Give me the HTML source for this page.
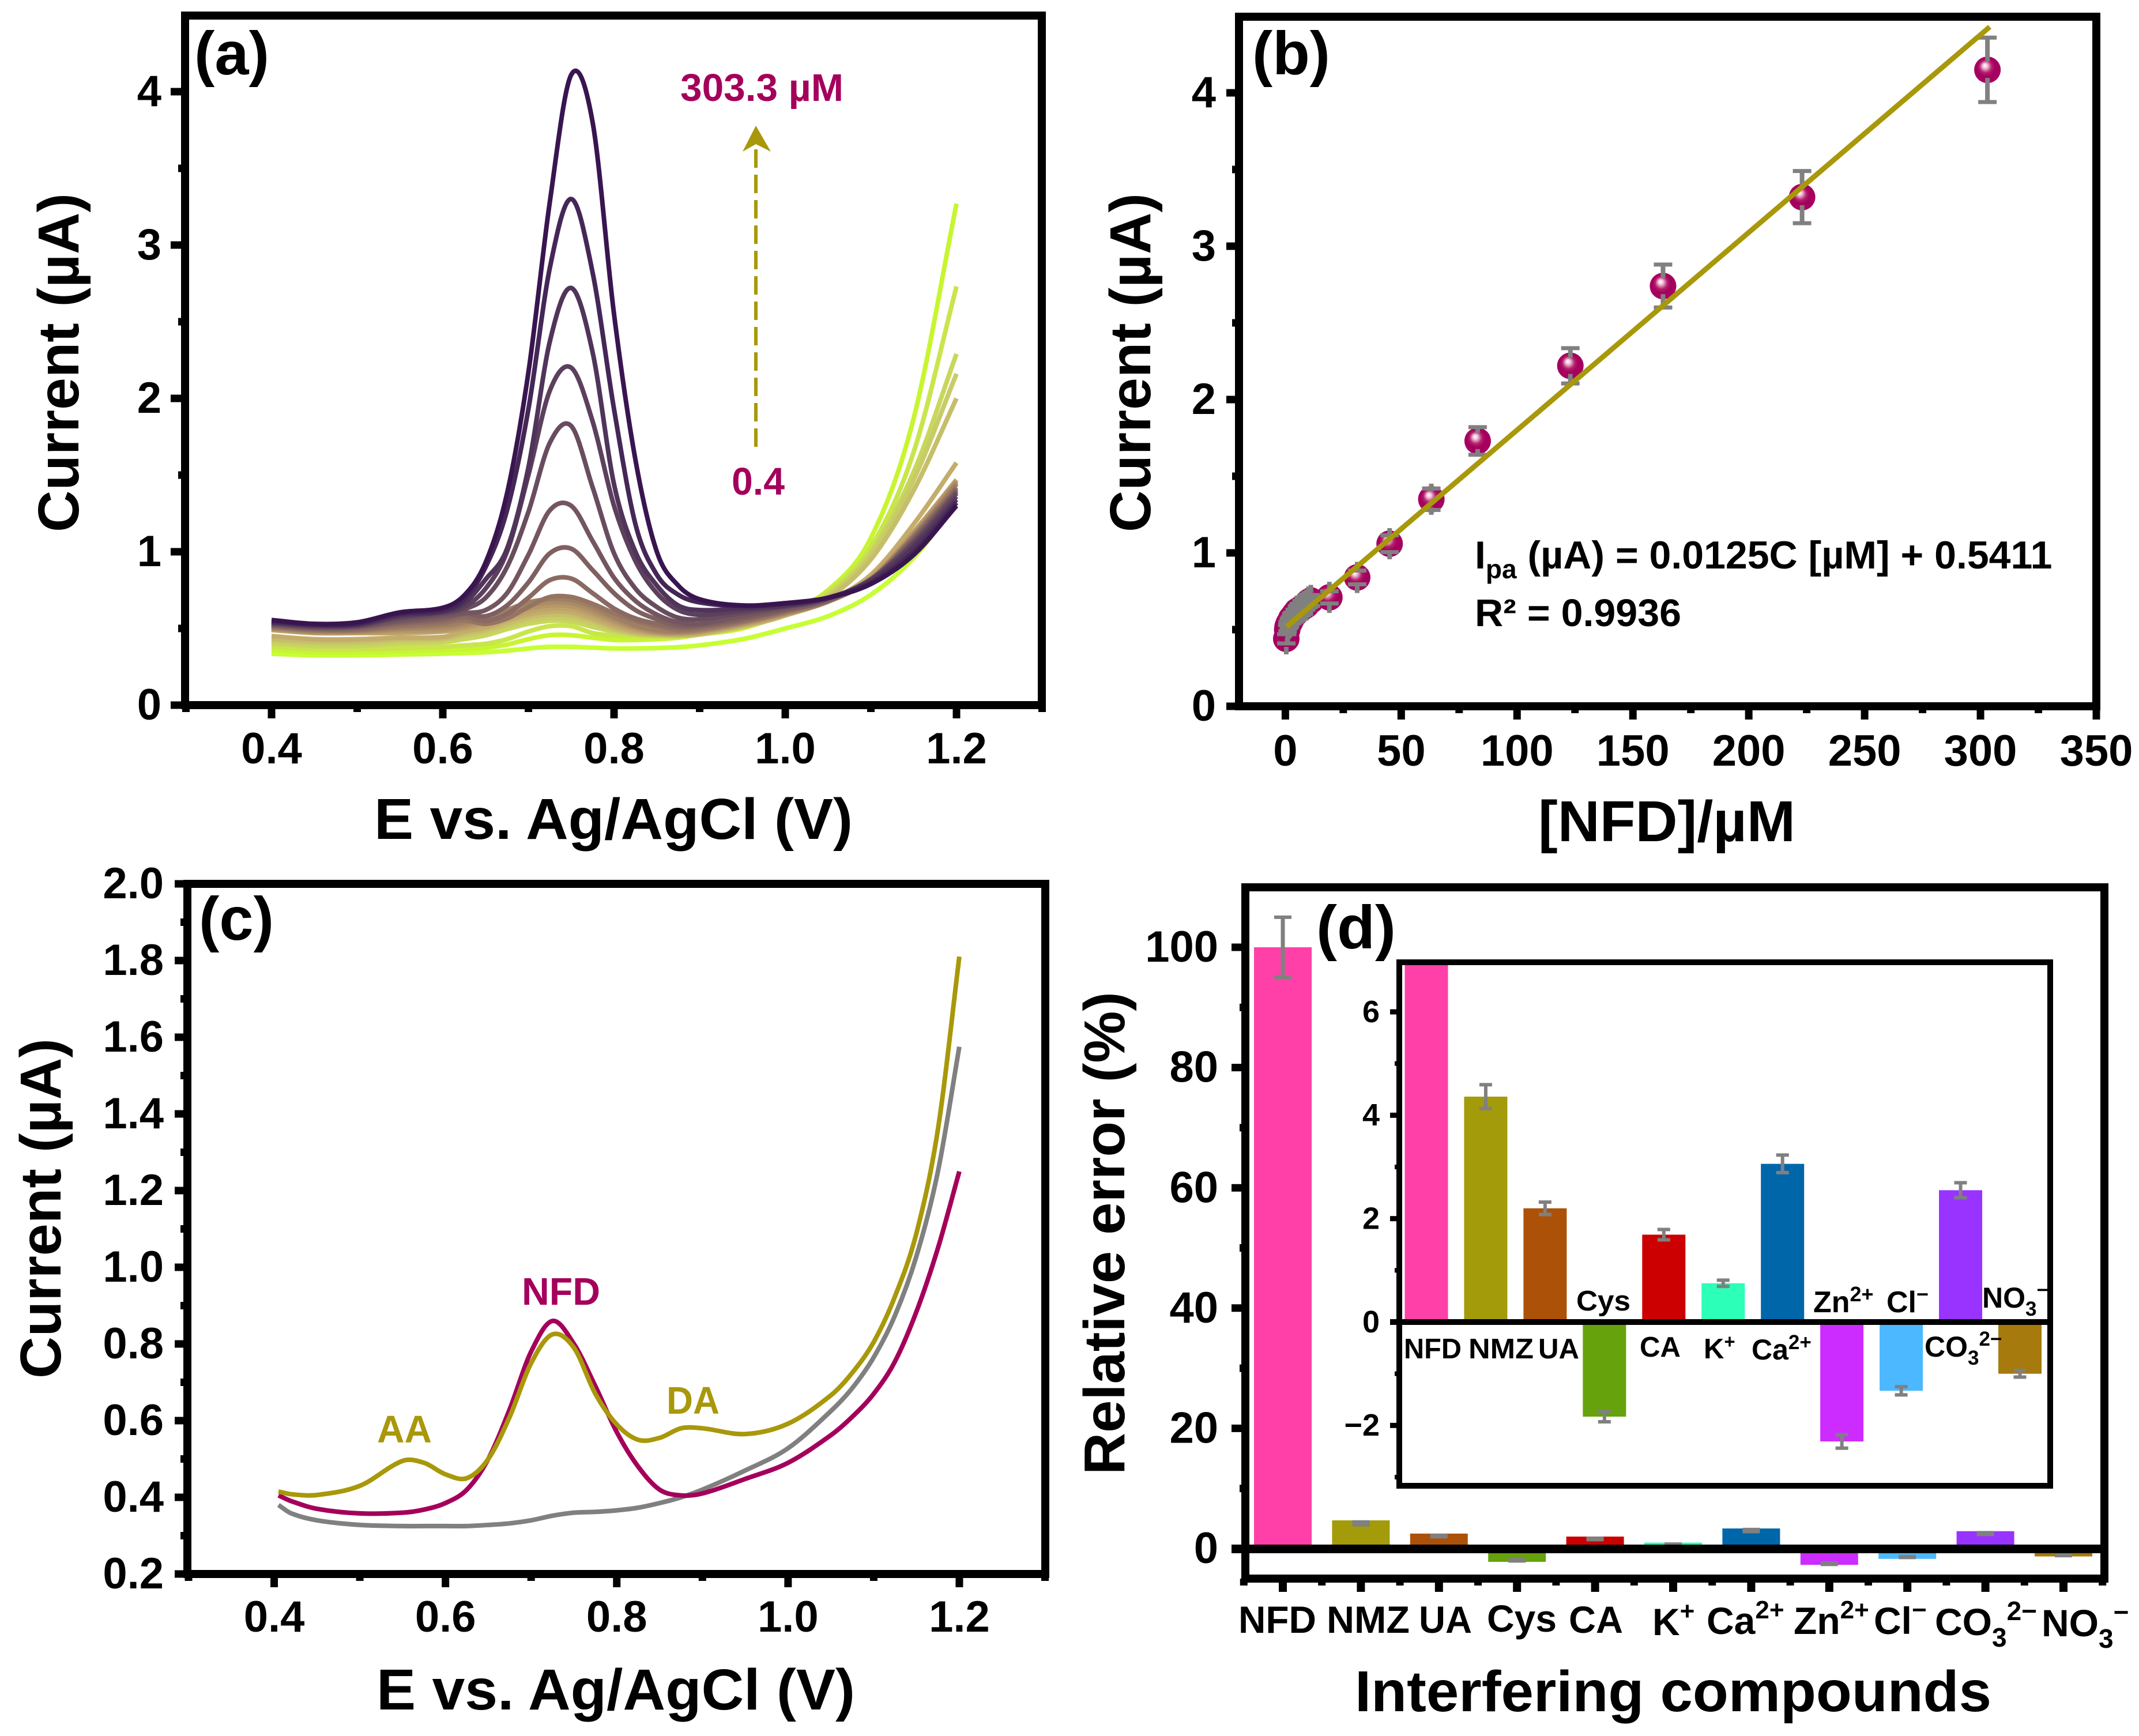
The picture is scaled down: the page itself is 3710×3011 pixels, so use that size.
<!DOCTYPE html>
<html lang="en">
<head>
<meta charset="utf-8">
<title>NFD electrochemical sensing figure</title>
<style>
html,body{margin:0;padding:0;background:#fff;}
svg{display:block;}
text{font-family:"Liberation Sans",Arial,sans-serif;font-weight:bold;fill:#000;}
.title{font-size:100px;}
.panel{font-size:106px;}
.anno{font-size:67px;}
.cat{font-size:66px;}
.ins{font-size:49px;}
</style>
</head>
<body>
<svg id="figure" xmlns="http://www.w3.org/2000/svg" width="3710" height="3011" viewBox="0 0 3710 3011">
  <defs>
    <radialGradient id="ball" cx="0.48" cy="0.45" r="0.55" fx="0.4" fy="0.33">
      <stop offset="0" stop-color="#ffffff"/>
      <stop offset="0.16" stop-color="#f3c6dc"/>
      <stop offset="0.42" stop-color="#b3206c"/>
      <stop offset="0.62" stop-color="#a5005f"/>
      <stop offset="1" stop-color="#a5005f"/>
    </radialGradient>
    <clipPath id="inset-clip"><rect x="2427" y="1669" width="1129" height="908"/></clipPath>
  </defs>
  <rect x="0" y="0" width="3710" height="3011" fill="#ffffff"/>
  <g id="marks-a"></g>
  <g id="marks-b"></g>
  <g id="marks-c"></g>
  <g id="marks-d"></g>
  <g id="axes"></g>

  <rect x="321" y="27" width="1486" height="1196" fill="none" stroke="#000" stroke-width="14"/>
  <rect x="2149" y="29" width="1487" height="1196" fill="none" stroke="#000" stroke-width="14"/>
  <rect x="325" y="1533" width="1488" height="1197" fill="none" stroke="#000" stroke-width="14"/>
  <rect x="2160" y="1539" width="1490" height="1199" fill="none" stroke="#000" stroke-width="14"/>
  <line x1="2136" y1="2686.5" x2="3650" y2="2686.5" stroke="#000" stroke-width="15"/>
  <g id="inset-marks" clip-path="url(#inset-clip)"></g>
  <rect x="2427" y="1669" width="1129" height="908" fill="none" stroke="#000" stroke-width="10"/>
  <line x1="2411" y1="2293" x2="3556" y2="2293" stroke="#000" stroke-width="10"/>
  <g id="inset-axes"></g>

  <!-- panel a text -->
  <text class="panel" x="337" y="129" textLength="130" lengthAdjust="spacingAndGlyphs">(a)</text>
  <text class="title" x="649" y="1455" textLength="830" lengthAdjust="spacingAndGlyphs">E vs. Ag/AgCl (V)</text>
  <text class="title" transform="translate(136 923) rotate(-90)" x="0" y="0" textLength="588" lengthAdjust="spacingAndGlyphs">Current (µA)</text>
  <text class="anno" style="fill:#a4005b" x="1180" y="175" textLength="283" lengthAdjust="spacingAndGlyphs">303.3 µM</text>
  <text class="anno" style="fill:#a4005b" x="1269" y="858" textLength="92" lengthAdjust="spacingAndGlyphs">0.4</text>
  <line x1="1311" y1="775" x2="1311" y2="258" stroke="#a8980a" stroke-width="6" stroke-dasharray="32 12"/>
  <polygon points="1311,218 1337,263 1311,250 1288,263" fill="#a8980a"/>

  <!-- panel b text -->
  <text class="panel" x="2172" y="129" textLength="135" lengthAdjust="spacingAndGlyphs">(b)</text>
  <text class="title" x="2668" y="1459" textLength="446" lengthAdjust="spacingAndGlyphs">[NFD]/µM</text>
  <text class="title" transform="translate(1995 923) rotate(-90)" x="0" y="0" textLength="588" lengthAdjust="spacingAndGlyphs">Current (µA)</text>
  <text class="anno" x="2558" y="986" style="font-size:68px">I<tspan font-size="46" dy="17">pa</tspan><tspan dy="-17"> (µA) = 0.0125C [µM] + 0.5411</tspan></text>
  <text class="anno" x="2558" y="1086" textLength="358" lengthAdjust="spacingAndGlyphs">R² = 0.9936</text>

  <!-- panel c text -->
  <text class="panel" x="345" y="1630" textLength="130" lengthAdjust="spacingAndGlyphs">(c)</text>
  <text class="title" x="653" y="2965" textLength="830" lengthAdjust="spacingAndGlyphs">E vs. Ag/AgCl (V)</text>
  <text class="title" transform="translate(105 2391) rotate(-90)" x="0" y="0" textLength="590" lengthAdjust="spacingAndGlyphs">Current (µA)</text>
  <text class="anno" style="fill:#a4005b" x="905" y="2263" textLength="136" lengthAdjust="spacingAndGlyphs">NFD</text>
  <text class="anno" style="fill:#a8980a" x="1156" y="2452" textLength="92" lengthAdjust="spacingAndGlyphs">DA</text>
  <text class="anno" style="fill:#a8980a" x="654" y="2502" textLength="95" lengthAdjust="spacingAndGlyphs">AA</text>

  <!-- panel d text -->
  <text class="panel" x="2283" y="1645" textLength="138" lengthAdjust="spacingAndGlyphs">(d)</text>
  <text class="title" x="2350" y="2968" textLength="1104" lengthAdjust="spacingAndGlyphs">Interfering compounds</text>
  <text class="title" transform="translate(1950 2558) rotate(-90)" x="0" y="0" textLength="838" lengthAdjust="spacingAndGlyphs">Relative error (%)</text>

  <text class="cat" x="2148" y="2832" textLength="135" lengthAdjust="spacingAndGlyphs">NFD</text>
  <text class="cat" x="2301" y="2832" textLength="144" lengthAdjust="spacingAndGlyphs">NMZ</text>
  <text class="cat" x="2461" y="2832" textLength="92" lengthAdjust="spacingAndGlyphs">UA</text>
  <text class="cat" x="2579" y="2830" textLength="121" lengthAdjust="spacingAndGlyphs">Cys</text>
  <text class="cat" x="2721" y="2832" textLength="94" lengthAdjust="spacingAndGlyphs">CA</text>
  <text class="cat" x="2866" y="2836">K<tspan font-size="44" dy="-27">+</tspan></text>
  <text class="cat" x="2960" y="2834">Ca<tspan font-size="44" dy="-27">2+</tspan></text>
  <text class="cat" x="3111" y="2834">Zn<tspan font-size="44" dy="-27">2+</tspan></text>
  <text class="cat" x="3250" y="2834">Cl<tspan font-size="44" dy="-27">−</tspan></text>
  <text class="cat" x="3356" y="2836">CO<tspan font-size="46" dy="20">3</tspan><tspan font-size="46" dy="-46">2−</tspan></text>
  <text class="cat" x="3541" y="2838">NO<tspan font-size="46" dy="20">3</tspan><tspan font-size="46" dy="-46">−</tspan></text>

  <text class="ins" x="2435" y="2356" textLength="100" lengthAdjust="spacingAndGlyphs">NFD</text>
  <text class="ins" x="2547" y="2356" textLength="113" lengthAdjust="spacingAndGlyphs">NMZ</text>
  <text class="ins" x="2668" y="2356" textLength="71" lengthAdjust="spacingAndGlyphs">UA</text>
  <text class="ins" x="2734" y="2273" textLength="94" lengthAdjust="spacingAndGlyphs">Cys</text>
  <text class="ins" x="2844" y="2353" textLength="71" lengthAdjust="spacingAndGlyphs">CA</text>
  <text class="ins" x="2955" y="2356">K<tspan font-size="33" dy="-18">+</tspan></text>
  <text class="ins" x="3038" y="2358" style="font-size:50px">Ca<tspan font-size="35" dy="-18">2+</tspan></text>
  <text class="ins" x="3145" y="2276" style="font-size:52px">Zn<tspan font-size="36" dy="-19">2+</tspan></text>
  <text class="ins" x="3272" y="2276" style="font-size:52px">Cl<tspan font-size="36" dy="-19">−</tspan></text>
  <text class="ins" x="3338" y="2353" style="font-size:50px">CO<tspan font-size="35" dy="14">3</tspan><tspan font-size="35" dy="-33">2−</tspan></text>
  <text class="ins" x="3438" y="2268" style="font-size:50px">NO<tspan font-size="35" dy="14">3</tspan><tspan font-size="35" dy="-33">−</tspan></text>
</svg>

<script>
// ---------- panel (a) data ----------
const aPotentials = [0.40,0.45,0.50,0.55,0.60,0.625,0.65,0.675,0.70,0.725,0.75,0.775,0.80,0.825,0.85,0.875,0.90,0.95,1.00,1.05,1.10,1.15,1.20];
const aCurve01 = [.335,.325,.325,.33,.335,.34,.345,.355,.37,.38,.38,.375,.37,.37,.372,.378,.39,.43,.50,.58,.72,.96,1.32];
const aCurve02 = [.36,.345,.345,.35,.36,.365,.375,.395,.43,.456,.456,.44,.425,.425,.43,.44,.46,.50,.60,.75,1.09,1.87,3.27];
const aCurve03 = [.38,.365,.365,.37,.38,.39,.40,.43,.48,.515,.515,.47,.455,.45,.45,.46,.48,.53,.62,.74,1.03,1.65,2.73];
const aCurve04 = [.40,.385,.385,.40,.41,.43,.455,.495,.53,.55,.545,.51,.48,.46,.45,.45,.46,.51,.59,.72,1.0,1.52,2.29];
const aCurve05 = [.415,.40,.40,.415,.425,.45,.475,.515,.55,.57,.565,.53,.49,.465,.455,.45,.46,.51,.585,.71,.98,1.47,2.16];
const aCurve06 = [.43,.415,.415,.43,.435,.465,.49,.53,.57,.59,.585,.55,.50,.47,.46,.455,.465,.515,.585,.70,.95,1.40,2.00];
const aCurve07 = [.45,.43,.43,.44,.445,.48,.505,.55,.59,.61,.605,.565,.515,.48,.465,.46,.47,.52,.585,.68,.85,1.18,1.58];
const aCurve08 = [.49,.47,.47,.47,.48,.50,.525,.565,.61,.63,.625,.585,.53,.49,.47,.465,.475,.525,.59,.675,.83,1.13,1.47];
const aCurve09 = [.495,.475,.475,.485,.49,.51,.54,.58,.63,.65,.645,.60,.545,.50,.475,.47,.48,.53,.595,.675,.83,1.12,1.46];
const aCurve10 = [.50,.48,.48,.495,.505,.525,.555,.60,.65,.67,.665,.62,.56,.51,.48,.475,.485,.535,.60,.675,.82,1.11,1.45];
const aCurve11 = [.505,.485,.485,.505,.52,.54,.57,.62,.67,.69,.685,.64,.575,.52,.49,.48,.49,.54,.60,.675,.82,1.10,1.44];
const aCurve12 = [.51,.49,.49,.515,.535,.555,.53,.565,.64,.705,.705,.66,.60,.55,.515,.49,.50,.545,.61,.68,.82,1.10,1.42];
const aCurve13 = [.515,.495,.495,.53,.55,.575,.55,.595,.70,.815,.825,.73,.63,.565,.53,.505,.51,.555,.615,.68,.82,1.09,1.41];
const aCurve14 = [.52,.50,.505,.54,.565,.595,.58,.65,.80,.99,1.02,.88,.73,.62,.56,.52,.52,.565,.62,.685,.82,1.08,1.40];
const aCurve15 = [.525,.505,.51,.55,.58,.60,.62,.73,.98,1.27,1.30,1.07,.83,.68,.59,.54,.53,.58,.63,.69,.82,1.07,1.39];
const aCurve16 = [.53,.51,.515,.565,.595,.625,.70,.90,1.26,1.71,1.82,1.42,.99,.76,.64,.57,.56,.60,.64,.695,.82,1.06,1.38];
const aCurve17 = [.535,.515,.52,.575,.605,.64,.76,1.0,1.5,2.05,2.20,1.85,1.30,.94,.73,.62,.59,.615,.645,.695,.82,1.05,1.36];
const aCurve18 = [.54,.52,.525,.585,.61,.665,.82,1.02,1.55,2.37,2.72,2.30,1.44,1.0,.78,.65,.62,.63,.65,.70,.81,1.03,1.34];
const aCurve19 = [.545,.525,.53,.595,.62,.69,.90,1.27,1.93,2.85,3.30,2.82,1.93,1.18,.85,.72,.67,.645,.66,.70,.80,1.00,1.32];
const aCurve20 = [.555,.53,.54,.605,.635,.715,.93,1.38,2.17,3.28,4.11,3.80,2.55,1.60,1.0,.78,.69,.65,.665,.70,.79,.98,1.30];
const aCurves = [aCurve01,aCurve02,aCurve03,aCurve04,aCurve05,aCurve06,aCurve07,aCurve08,aCurve09,aCurve10,aCurve11,aCurve12,aCurve13,aCurve14,aCurve15,aCurve16,aCurve17,aCurve18,aCurve19,aCurve20];
const aPalette = ['#c6ff33','#c8f530','#c9e54c','#c8d75c','#c8cc66','#c6be6a','#c4ad6b','#bea36b','#b59768','#aa8c66','#a08064','#957463','#8a6a62','#7f6061','#745660','#684c5f','#5c405d','#50345a','#452757','#391550'];
const aXTicks = [0.4,0.6,0.8,1.0,1.2];
const aXMinor = [0.3,0.5,0.7,0.9,1.1,1.3];
const aYTicks = [0,1,2,3,4];
const aYMinor = [0.5,1.5,2.5,3.5];

// ---------- panel (b) data ----------
const bConc = [0.4,0.8,1,1.5,2,2.5,3,4,5,6,7,8,9,10,11,19,31,45,63,83,123,163,223,303];
const bCurrent = [.44,.50,.52,.54,.55,.57,.58,.60,.62,.63,.64,.65,.66,.68,.69,.71,.84,1.06,1.35,1.73,2.22,2.74,3.32,4.15];
const bError = [.03,.03,.03,.03,.03,.03,.03,.03,.03,.03,.03,.03,.03,.035,.035,.04,.045,.055,.07,.09,.115,.14,.17,.21];
const bFitX = [0.6,304];
const bFitY = [.52,4.43];
const bXTicks = [0,50,100,150,200,250,300,350];
const bXMinor = [25,75,125,175,225,275,325];
const bYTicks = [0,1,2,3,4];
const bYMinor = [0.5,1.5,2.5,3.5];

// ---------- panel (c) data ----------
const cPotentials = [.405,.42,.45,.50,.55,.575,.60,.625,.65,.675,.70,.725,.75,.775,.80,.825,.85,.875,.90,.95,1.0,1.05,1.075,1.10,1.125,1.15,1.175,1.20];
const cGrey = [.38,.358,.34,.328,.325,.325,.325,.325,.328,.332,.34,.352,.36,.362,.366,.373,.385,.40,.42,.47,.528,.625,.685,.765,.875,1.03,1.25,1.575];
const cGold = [.415,.408,.406,.43,.495,.49,.46,.45,.50,.61,.75,.825,.79,.67,.59,.55,.555,.58,.58,.565,.592,.666,.725,.805,.925,1.09,1.36,1.81];
const cCrimson = [.405,.39,.37,.358,.36,.368,.385,.42,.50,.63,.78,.86,.80,.69,.57,.48,.42,.405,.41,.448,.49,.562,.61,.67,.755,.885,1.05,1.25];
const cXTicks = [0.4,0.6,0.8,1.0,1.2];
const cXMinor = [0.3,0.5,0.7,0.9,1.1,1.3];
const cYTicks = [0.2,0.4,0.6,0.8,1.0,1.2,1.4,1.6,1.8,2.0];
const cYMinor = [0.3,0.5,0.7,0.9,1.1,1.3,1.5,1.7,1.9];

// ---------- panel (d) data ----------
const dCategories = ['NFD','NMZ','UA','Cys','CA','K','Ca2','Zn2','Cl','CO3','NO3'];
const dMainBars = [100,4.7,2.5,-2.2,2.0,1.0,3.35,-2.7,-1.7,2.9,-1.3];
const dMainCentres = [100,4.2,2.1,-1.95,1.6,.7,3.0,-2.5,-1.4,2.5,-1.1];
const dMainErrors = [5,.23,.12,.1,.1,.06,.17,.13,.08,.145,.065];
const insetBars = [100,4.36,2.2,-1.83,1.69,.75,3.06,-2.31,-1.33,2.55,-1.0];
const insetErrors = [5,.23,.12,.1,.1,.06,.17,.13,.08,.145,.065];
const dPalette = ['#ff40a8','#a39b0a','#ac5208','#66a20c','#cc0000','#2cffb8','#0066aa','#cc2cff','#4cb8ff','#9933ff','#a67a0c'];
const dYTicks = [0,20,40,60,80,100];
const dYMinor = [10,30,50,70,90];
const insetYTicks = [-2,0,2,4,6];
const insetYMinor = [-3,-1,1,3,5];

// ---------- scales ----------
const NS = 'http://www.w3.org/2000/svg';
const scale = (d0,d1,r0,r1) => v => r0 + (v-d0)*(r1-r0)/(d1-d0);
const xA = scale(0.3,1.3,322.5,1807.5), yA = scale(0,4.5,1223,26);
const xB = scale(-20,350,2149,3636), yB = scale(0,4.5,1225,28);
const xC = scale(0.3,1.3,327,1812.5), yC = scale(0.2,2.0,2730,1533);
const xD = scale(1,11,2225,3579), yD = scale(0,100,2686,1643);
const xI = scale(1,11,2474,3503.5), yI = scale(0,6,2293,1755);

function make(tag, attrs, parent){
  const e = document.createElementNS(NS, tag);
  for (const k in attrs) e.setAttribute(k, attrs[k]);
  parent.appendChild(e);
  return e;
}
function smoothPath(xs, ys, fx, fy){
  const n = xs.length, m = [];
  for (let i=0;i<n;i++){
    const a = Math.max(i-1,0), b = Math.min(i+1,n-1);
    m[i] = (ys[b]-ys[a])/(xs[b]-xs[a]);
  }
  let d = 'M'+fx(xs[0]).toFixed(1)+' '+fy(ys[0]).toFixed(1);
  for (let i=0;i<n-1;i++){
    const h = (xs[i+1]-xs[i])/3;
    d += ' C'+fx(xs[i]+h).toFixed(1)+' '+fy(ys[i]+m[i]*h).toFixed(1)+' '
      +fx(xs[i+1]-h).toFixed(1)+' '+fy(ys[i+1]-m[i+1]*h).toFixed(1)+' '
      +fx(xs[i+1]).toFixed(1)+' '+fy(ys[i+1]).toFixed(1);
  }
  return d;
}
function drawXTicks(parent, prefix, vals, fx, axisY, len, width, labels, labelY, size){
  vals.forEach((v,i)=>{
    const t = make('line',{x1:fx(v),x2:fx(v),y1:axisY,y2:axisY+len,stroke:'#000','stroke-width':width},parent);
    
    
    if (labels){
      const l = make('text',{x:fx(v),y:labelY,'text-anchor':'middle','font-size':size},parent);
      l.textContent = labels[i];
      
      
    }
  });
}
function drawYTicks(parent, prefix, vals, fy, axisX, len, width, labels, labelX, size){
  vals.forEach((v,i)=>{
    const t = make('line',{x1:axisX,x2:axisX-len,y1:fy(v),y2:fy(v),stroke:'#000','stroke-width':width},parent);
    
    
    if (labels){
      const l = make('text',{x:labelX,y:fy(v)+size*0.33,'text-anchor':'end','font-size':size},parent);
      l.textContent = labels[i];
      
      
    }
  });
}

// ---------- panel (a) ----------
const gA = document.getElementById('marks-a');
aCurves.forEach((c,i)=>{
  const p = make('path',{d:smoothPath(aPotentials,c,xA,yA),fill:'none',stroke:aPalette[i],'stroke-width':8,'stroke-linejoin':'round'},gA);
  
  
});

// ---------- panel (b) ----------
const gB = document.getElementById('marks-b');
bConc.forEach((x,i)=>{
  const cx = xB(x), cy = yB(bCurrent[i]);
  const ball = make('circle',{cx:cx,cy:cy,r:23,fill:'url(#ball)'},gB);
  
  
});
bConc.forEach((x,i)=>{
  const cx = xB(x), cy = yB(bCurrent[i]);
  const top = yB(bCurrent[i]+bError[i]), bot = yB(bCurrent[i]-bError[i]);
  const reach = 27;
  const upEnd = Math.min(top, cy-reach), downEnd = Math.max(bot, cy+reach);
  const up = make('line',{x1:cx,x2:cx,y1:cy-14,y2:upEnd,stroke:'#808080','stroke-width':8},gB);
  
  
  const down = make('line',{x1:cx,x2:cx,y1:cy+14,y2:downEnd,stroke:'#808080','stroke-width':8},gB);
  
  
  const capT = make('line',{x1:cx-16,x2:cx+16,y1:top,y2:top,stroke:'#808080','stroke-width':7},gB);
  
  
  const capB = make('line',{x1:cx-16,x2:cx+16,y1:bot,y2:bot,stroke:'#808080','stroke-width':7},gB);
  
  
});
const fit = make('line',{x1:xB(bFitX[0]),y1:yB(bFitY[0]),x2:xB(bFitX[1]),y2:yB(bFitY[1]),stroke:'#a8980a','stroke-width':9},gB);



// ---------- panel (c) ----------
const gC = document.getElementById('marks-c');
const cGreyPath = make('path',{d:smoothPath(cPotentials,cGrey,xC,yC),fill:'none',stroke:'#808080','stroke-width':8},gC);


const cCrimsonPath = make('path',{d:smoothPath(cPotentials,cCrimson,xC,yC),fill:'none',stroke:'#a4005b','stroke-width':8},gC);


const cGoldPath = make('path',{d:smoothPath(cPotentials,cGold,xC,yC),fill:'none',stroke:'#a8980a','stroke-width':8},gC);



// ---------- panel (d) and inset ----------
function drawBars(parent, prefix, barVals, centreVals, errVals, fx, fy, barW, capHalf, stemW){
  barVals.forEach((v,i)=>{
    const cx = fx(i+1), y0 = fy(0), yv = fy(v);
    const r = make('rect',{x:cx-barW/2,y:Math.min(y0,yv),width:barW,height:Math.abs(y0-yv),fill:dPalette[i]},parent);
    
    
  });
  centreVals.forEach((v,i)=>{
    const cx = fx(i+1), top = fy(v+errVals[i]), bot = fy(v-errVals[i]);
    const s = make('line',{x1:cx,x2:cx,y1:top,y2:bot,stroke:'#808080','stroke-width':stemW},parent);
    
    
    const c1 = make('line',{x1:cx-capHalf,x2:cx+capHalf,y1:top,y2:top,stroke:'#808080','stroke-width':6},parent);
    
    
    const c2 = make('line',{x1:cx-capHalf,x2:cx+capHalf,y1:bot,y2:bot,stroke:'#808080','stroke-width':6},parent);
    
    
  });
}
drawBars(document.getElementById('marks-d'), 'main', dMainBars, dMainCentres, dMainErrors, xD, yD, 100, 15, 7);
drawBars(document.getElementById('inset-marks'), 'inset', insetBars, insetBars, insetErrors, xI, yI, 75, 11, 6);

// ---------- axes ----------
const gAxes = document.getElementById('axes');
const fmt1 = v => v.toFixed(1);
const TICK_FONT = 76;
drawXTicks(gAxes,'panel-a',aXTicks,xA,1223,23,13,aXTicks.map(fmt1),1324,TICK_FONT);
drawXTicks(gAxes,'panel-a-minor',aXMinor,xA,1223,12,13);
drawYTicks(gAxes,'panel-a',aYTicks,yA,321,25,13,aYTicks.map(String),280,TICK_FONT);
drawYTicks(gAxes,'panel-a-minor',aYMinor,yA,321,12,13);

drawXTicks(gAxes,'panel-b',bXTicks,xB,1225,23,13,bXTicks.map(String),1328,TICK_FONT);
drawXTicks(gAxes,'panel-b-minor',bXMinor,xB,1225,12,13);
drawYTicks(gAxes,'panel-b',bYTicks,yB,2149,22,13,bYTicks.map(String),2109,TICK_FONT);
drawYTicks(gAxes,'panel-b-minor',bYMinor,yB,2149,12,13);

drawXTicks(gAxes,'panel-c',cXTicks,xC,2730,23,13,cXTicks.map(fmt1),2830,TICK_FONT);
drawXTicks(gAxes,'panel-c-minor',cXMinor,xC,2730,12,13);
drawYTicks(gAxes,'panel-c',cYTicks,yC,325,22,13,cYTicks.map(fmt1),284,TICK_FONT);
drawYTicks(gAxes,'panel-c-minor',cYMinor,yC,325,12,13);

drawXTicks(gAxes,'panel-d',dCategories.map((c,i)=>i+1),xD,2738,23,14);
drawXTicks(gAxes,'panel-d-minor',dCategories.map((c,i)=>i+0.5).concat([11.5]),xD,2738,12,13);
drawYTicks(gAxes,'panel-d',dYTicks,yD,2160,24,13,dYTicks.map(String),2113,TICK_FONT);
drawYTicks(gAxes,'panel-d-minor',dYMinor,yD,2160,10,13);

const gInset = document.getElementById('inset-axes');
drawYTicks(gInset,'inset',insetYTicks,yI,2427,16,9,insetYTicks.map(v=>String(v).replace('-','\u2212')),2393,54);
drawYTicks(gInset,'inset-minor',insetYMinor,yI,2427,8,8);
</script>
</body>
</html>
